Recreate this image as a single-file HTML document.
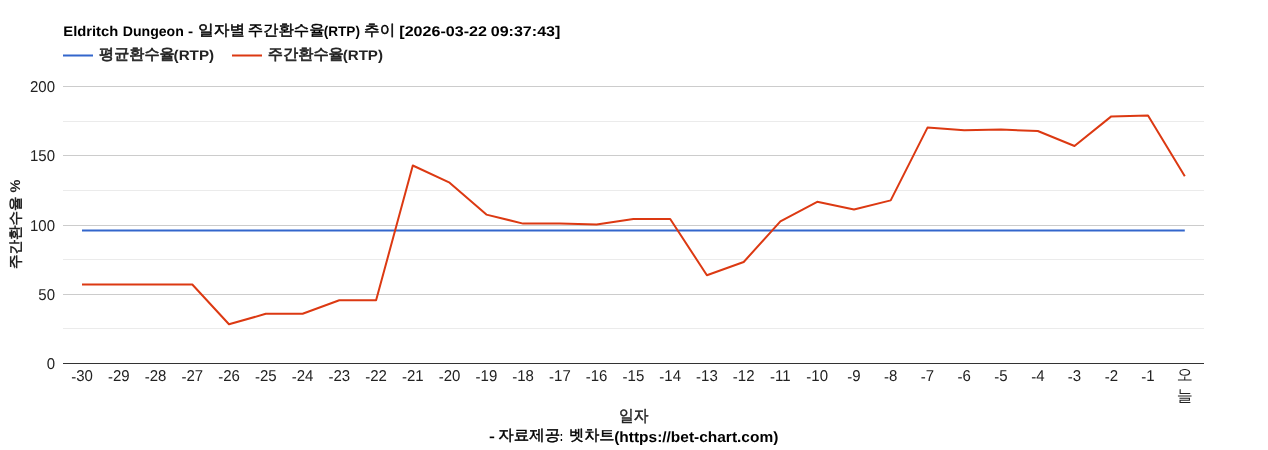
<!DOCTYPE html>
<html><head><meta charset="utf-8"><style>
html,body{margin:0;padding:0;background:#fff;width:1268px;height:450px;overflow:hidden}
svg{display:block;will-change:transform}
text{font-family:"Liberation Sans",sans-serif;text-rendering:geometricPrecision}
</style></head><body>
<svg width="1268" height="450" viewBox="0 0 1268 450">
<rect x="0" y="0" width="1268" height="450" fill="#fff"/>
<text x="63.30" y="36" font-size="14" font-weight="bold" fill="#000" textLength="54.90" lengthAdjust="spacingAndGlyphs">Eldritch</text>
<text x="122.80" y="36" font-size="14" font-weight="bold" fill="#000" textLength="61.00" lengthAdjust="spacingAndGlyphs">Dungeon</text>
<text x="188.00" y="36" font-size="14" font-weight="bold" fill="#000" textLength="5.10" lengthAdjust="spacingAndGlyphs">-</text>
<text x="198.10" y="35.3" font-size="15" font-weight="normal" fill="#000" stroke="#000" stroke-width="0.45" textLength="47.20" lengthAdjust="spacingAndGlyphs">일자별</text>
<text x="247.70" y="35.3" font-size="15" font-weight="normal" fill="#000" stroke="#000" stroke-width="0.45" textLength="76.90" lengthAdjust="spacingAndGlyphs">주간환수율</text>
<text x="323.70" y="36" font-size="14" font-weight="bold" fill="#000" textLength="36.30" lengthAdjust="spacingAndGlyphs">(RTP)</text>
<text x="364.10" y="35.3" font-size="15" font-weight="normal" fill="#000" stroke="#000" stroke-width="0.45" textLength="31.10" lengthAdjust="spacingAndGlyphs">추이</text>
<text x="399.30" y="36" font-size="14" font-weight="bold" fill="#000" textLength="87.70" lengthAdjust="spacingAndGlyphs">[2026-03-22</text>
<text x="490.70" y="36" font-size="14" font-weight="bold" fill="#000" textLength="69.70" lengthAdjust="spacingAndGlyphs">09:37:43]</text>
<text x="99.10" y="59.3" font-size="15" font-weight="normal" fill="#222" stroke="#222" stroke-width="0.65" textLength="75.60" lengthAdjust="spacingAndGlyphs">평균환수율</text>
<text x="173.60" y="60" font-size="14" font-weight="bold" fill="#222" textLength="40.50" lengthAdjust="spacingAndGlyphs">(RTP)</text>
<text x="267.80" y="59.3" font-size="15" font-weight="normal" fill="#222" stroke="#222" stroke-width="0.65" textLength="76.00" lengthAdjust="spacingAndGlyphs">주간환수율</text>
<text x="342.70" y="60" font-size="14" font-weight="bold" fill="#222" textLength="40.30" lengthAdjust="spacingAndGlyphs">(RTP)</text>
<rect x="63" y="54.5" width="30" height="2" fill="#3366cc"/>
<rect x="232" y="54.5" width="30" height="2" fill="#dc3912"/>
<g fill="#ebebeb">
<rect x="63" y="121" width="1141" height="1"/>
<rect x="63" y="190" width="1141" height="1"/>
<rect x="63" y="259" width="1141" height="1"/>
<rect x="63" y="328" width="1141" height="1"/>
</g>
<g fill="#cccccc">
<rect x="63" y="86" width="1141" height="1"/>
<rect x="63" y="155" width="1141" height="1"/>
<rect x="63" y="225" width="1141" height="1"/>
<rect x="63" y="294" width="1141" height="1"/>
</g>
<rect x="63" y="363" width="1141" height="1" fill="#333"/>
<g font-size="15" text-anchor="end" fill="#222">
<text transform="translate(55,92.4) scale(1,1.05)">200</text>
<text transform="translate(55,161.4) scale(1,1.05)">150</text>
<text transform="translate(55,231.4) scale(1,1.05)">100</text>
<text transform="translate(55,300.4) scale(1,1.05)">50</text>
<text transform="translate(55,369.4) scale(1,1.05)">0</text>
</g>
<g font-size="15" fill="#222">
<text transform="translate(82.0,381) scale(1,1.05)" text-anchor="middle"><tspan dy="0.8">-</tspan><tspan dy="-0.8">30</tspan></text>
<text transform="translate(118.8,381) scale(1,1.05)" text-anchor="middle"><tspan dy="0.8">-</tspan><tspan dy="-0.8">29</tspan></text>
<text transform="translate(155.5,381) scale(1,1.05)" text-anchor="middle"><tspan dy="0.8">-</tspan><tspan dy="-0.8">28</tspan></text>
<text transform="translate(192.3,381) scale(1,1.05)" text-anchor="middle"><tspan dy="0.8">-</tspan><tspan dy="-0.8">27</tspan></text>
<text transform="translate(229.0,381) scale(1,1.05)" text-anchor="middle"><tspan dy="0.8">-</tspan><tspan dy="-0.8">26</tspan></text>
<text transform="translate(265.8,381) scale(1,1.05)" text-anchor="middle"><tspan dy="0.8">-</tspan><tspan dy="-0.8">25</tspan></text>
<text transform="translate(302.6,381) scale(1,1.05)" text-anchor="middle"><tspan dy="0.8">-</tspan><tspan dy="-0.8">24</tspan></text>
<text transform="translate(339.3,381) scale(1,1.05)" text-anchor="middle"><tspan dy="0.8">-</tspan><tspan dy="-0.8">23</tspan></text>
<text transform="translate(376.1,381) scale(1,1.05)" text-anchor="middle"><tspan dy="0.8">-</tspan><tspan dy="-0.8">22</tspan></text>
<text transform="translate(412.8,381) scale(1,1.05)" text-anchor="middle"><tspan dy="0.8">-</tspan><tspan dy="-0.8">21</tspan></text>
<text transform="translate(449.6,381) scale(1,1.05)" text-anchor="middle"><tspan dy="0.8">-</tspan><tspan dy="-0.8">20</tspan></text>
<text transform="translate(486.4,381) scale(1,1.05)" text-anchor="middle"><tspan dy="0.8">-</tspan><tspan dy="-0.8">19</tspan></text>
<text transform="translate(523.1,381) scale(1,1.05)" text-anchor="middle"><tspan dy="0.8">-</tspan><tspan dy="-0.8">18</tspan></text>
<text transform="translate(559.9,381) scale(1,1.05)" text-anchor="middle"><tspan dy="0.8">-</tspan><tspan dy="-0.8">17</tspan></text>
<text transform="translate(596.6,381) scale(1,1.05)" text-anchor="middle"><tspan dy="0.8">-</tspan><tspan dy="-0.8">16</tspan></text>
<text transform="translate(633.4,381) scale(1,1.05)" text-anchor="middle"><tspan dy="0.8">-</tspan><tspan dy="-0.8">15</tspan></text>
<text transform="translate(670.2,381) scale(1,1.05)" text-anchor="middle"><tspan dy="0.8">-</tspan><tspan dy="-0.8">14</tspan></text>
<text transform="translate(706.9,381) scale(1,1.05)" text-anchor="middle"><tspan dy="0.8">-</tspan><tspan dy="-0.8">13</tspan></text>
<text transform="translate(743.7,381) scale(1,1.05)" text-anchor="middle"><tspan dy="0.8">-</tspan><tspan dy="-0.8">12</tspan></text>
<text transform="translate(780.4,381) scale(1,1.05)" text-anchor="middle"><tspan dy="0.8">-</tspan><tspan dy="-0.8">11</tspan></text>
<text transform="translate(817.2,381) scale(1,1.05)" text-anchor="middle"><tspan dy="0.8">-</tspan><tspan dy="-0.8">10</tspan></text>
<text transform="translate(854.0,381) scale(1,1.05)" text-anchor="middle"><tspan dy="0.8">-</tspan><tspan dy="-0.8">9</tspan></text>
<text transform="translate(890.7,381) scale(1,1.05)" text-anchor="middle"><tspan dy="0.8">-</tspan><tspan dy="-0.8">8</tspan></text>
<text transform="translate(927.5,381) scale(1,1.05)" text-anchor="middle"><tspan dy="0.8">-</tspan><tspan dy="-0.8">7</tspan></text>
<text transform="translate(964.2,381) scale(1,1.05)" text-anchor="middle"><tspan dy="0.8">-</tspan><tspan dy="-0.8">6</tspan></text>
<text transform="translate(1001.0,381) scale(1,1.05)" text-anchor="middle"><tspan dy="0.8">-</tspan><tspan dy="-0.8">5</tspan></text>
<text transform="translate(1037.8,381) scale(1,1.05)" text-anchor="middle"><tspan dy="0.8">-</tspan><tspan dy="-0.8">4</tspan></text>
<text transform="translate(1074.5,381) scale(1,1.05)" text-anchor="middle"><tspan dy="0.8">-</tspan><tspan dy="-0.8">3</tspan></text>
<text transform="translate(1111.3,381) scale(1,1.05)" text-anchor="middle"><tspan dy="0.8">-</tspan><tspan dy="-0.8">2</tspan></text>
<text transform="translate(1148.0,381) scale(1,1.05)" text-anchor="middle"><tspan dy="0.8">-</tspan><tspan dy="-0.8">1</tspan></text>
<text x="1184.8" y="380" text-anchor="middle" font-size="16">오</text>
<text x="1184.8" y="400.5" text-anchor="middle" font-size="16">늘</text>
</g>
<text transform="translate(20,224.3) rotate(-90)" text-anchor="middle" font-size="14" font-weight="bold" fill="#222" textLength="89.5" lengthAdjust="spacingAndGlyphs">주간환수율 %</text>
<text x="633.7" y="420.8" text-anchor="middle" font-size="16" font-weight="normal" fill="#222" stroke="#222" stroke-width="0.45" textLength="29.5" lengthAdjust="spacingAndGlyphs">일자</text>
<text x="489.00" y="441" font-size="14" font-weight="bold" fill="#000" textLength="5.90" lengthAdjust="spacingAndGlyphs">-</text>
<text x="498.30" y="440.3" font-size="15" font-weight="normal" fill="#000" stroke="#000" stroke-width="0.45" textLength="61.90" lengthAdjust="spacingAndGlyphs">자료제공</text>
<text x="559.70" y="441" font-size="14" font-weight="bold" fill="#000" textLength="3.30" lengthAdjust="spacingAndGlyphs">:</text>
<text x="569.00" y="440.3" font-size="15" font-weight="normal" fill="#000" stroke="#000" stroke-width="0.45" textLength="45.50" lengthAdjust="spacingAndGlyphs">벳차트</text>
<text x="614.20" y="441.6" font-size="15" font-weight="bold" fill="#000" textLength="164.10" lengthAdjust="spacingAndGlyphs">(https://bet-chart.com)</text>
<polyline points="82.0,230.4 1184.8,230.4" fill="none" stroke="#3366cc" stroke-width="2"/>
<polyline points="82.0,284.5 118.8,284.5 155.5,284.5 192.3,284.5 229.0,324.3 265.8,313.8 302.6,313.8 339.3,300.3 376.1,300.3 412.8,165.5 449.6,182.7 486.4,214.6 523.1,223.6 559.9,223.6 596.6,224.4 633.4,219.0 670.2,219.0 706.9,275.2 743.7,262.0 780.4,221.3 817.2,201.8 854.0,209.5 890.7,200.4 927.5,127.6 964.2,130.2 1001.0,129.6 1037.8,131.0 1074.5,146.0 1111.3,116.4 1148.0,115.4 1184.8,176.3" fill="none" stroke="#dc3912" stroke-width="2" stroke-linejoin="round"/>
</svg>
</body></html>
